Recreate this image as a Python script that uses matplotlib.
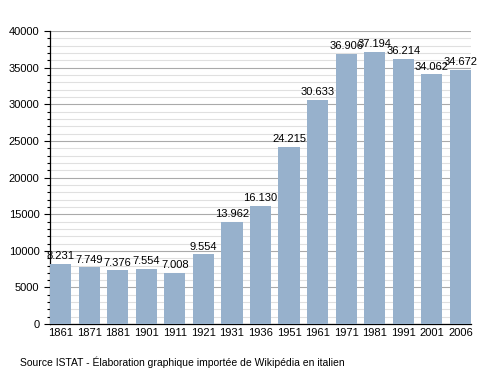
import matplotlib
matplotlib.use('Agg')
import matplotlib.pyplot as plt
from matplotlib.ticker import MultipleLocator

plt.rcParams['font.family'] = ['Liberation Sans', 'DejaVu Sans']

# Data
years = ['1861', '1871', '1881', '1901', '1911', '1921', '1931', '1936',
         '1951', '1961', '1971', '1981', '1991', '2001', '2006']
population = [8231, 7749, 7376, 7554, 7008, 9554, 13962, 16130,
              24215, 30633, 36906, 37194, 36214, 34062, 34672]

def fmt(v):
    return f'{v:,}'.replace(',', '.')

fig = plt.figure(figsize=(5, 3.73), dpi=100)
ax = fig.add_axes([0.1, 0.131, 0.842, 0.786])

x = range(len(years))
width = 0.74
ax.bar(x, population, width=width, color='#97b1cc', zorder=3)

for i, v in enumerate(population):
    ax.text(i, v + 350, fmt(v), ha='center', va='bottom', fontsize=8, zorder=4)

ax.set_xlim(-width / 2, len(years) - 1 + width / 2)
ax.set_ylim(0, 40000)
ax.yaxis.set_major_locator(MultipleLocator(5000))
ax.yaxis.set_minor_locator(MultipleLocator(1000))
ax.grid(which='major', axis='y', color='#aaaaaa', linewidth=0.8, zorder=1)
ax.grid(which='minor', axis='y', color='#e0e0e0', linewidth=0.8, zorder=1)

ax.set_xticks(list(x))
ax.set_xticklabels(years, fontsize=8)
ax.tick_params(axis='x', length=0, pad=3)
ax.tick_params(axis='y', which='major', length=4, labelsize=8, width=0.8)
ax.tick_params(axis='y', which='minor', length=2, width=0.8)

for s in ['top', 'right']:
    ax.spines[s].set_visible(False)
ax.spines['left'].set_linewidth(0.9)
ax.spines['bottom'].set_linewidth(0.9)

fig.text(0.04, 0.0295, 'Source ISTAT - Élaboration graphique importée de Wikipédia en italien',
         fontsize=7.5, ha='left', va='center')

fig.savefig('out.png', dpi=100)
